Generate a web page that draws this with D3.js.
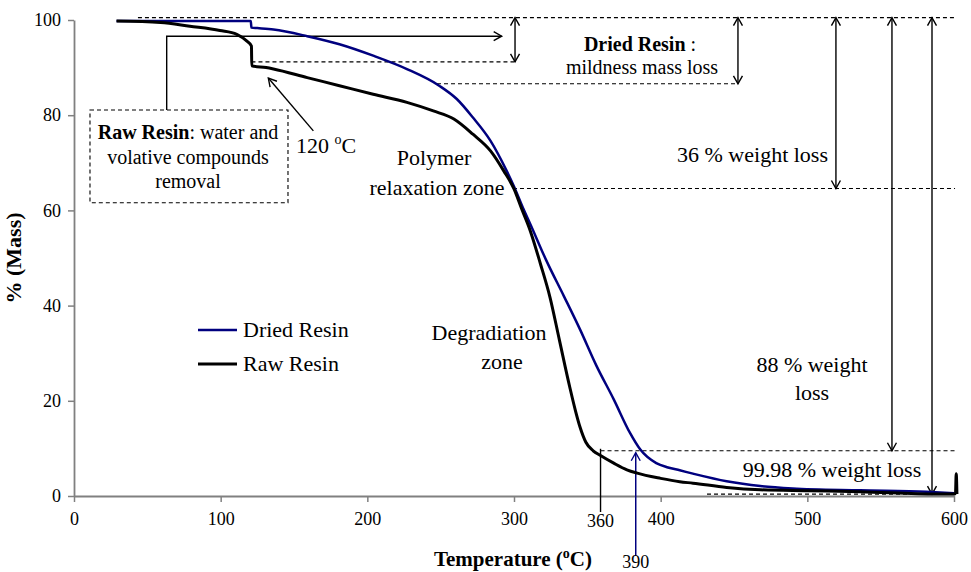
<!DOCTYPE html>
<html>
<head>
<meta charset="utf-8">
<script src="https://cdn.jsdelivr.net/npm/d3@7"></script>
<style>
  body { margin: 0; background: #fff; }
  svg { display: block; font-family: "Liberation Serif", "Times New Roman", serif; }
</style>
</head>
<body>
<div id="chart"></div>
<script>
// TGA curves
const tempDried = [29, 60, 90, 120.5, 121, 125, 136, 159, 181, 204, 227, 249, 261, 272, 284, 295, 300, 306, 311, 322, 334, 345, 356, 368, 379, 386, 397, 405, 413, 422, 445, 468, 490, 536, 581, 600];
const massDried = [99.8, 99.8, 99.8, 99.8, 98.4, 98.3, 98.0, 96.6, 94.9, 92.5, 89.7, 86.2, 83.4, 79.5, 74.6, 68.3, 65.0, 60.6, 57.2, 49.5, 42.0, 35.0, 27.5, 20.3, 13.3, 9.8, 6.9, 6.0, 5.4, 4.7, 3.1, 2.1, 1.6, 1.2, 0.9, 0.6];

const tempRaw = [29, 59, 79, 99.5, 111, 117.7, 121, 121.2, 131, 136, 159, 181, 204, 227, 245, 259, 272, 284, 293, 300, 305, 311, 318, 324.5, 331, 338, 342, 345, 349, 354, 359, 368, 377, 384, 400, 413, 422, 445, 468, 500, 536, 588, 599.5, 601, 601.5, 601.8, 602];
const massRaw = [99.8, 99.5, 98.7, 97.8, 97.0, 95.6, 94.5, 90.4, 90.0, 89.7, 87.9, 86.2, 84.4, 82.7, 80.9, 79.2, 76.0, 72.5, 68.3, 64.5, 60.5, 55.8, 48.8, 41.8, 32.7, 22.9, 17.8, 14.5, 11.3, 9.5, 8.5, 6.9, 5.5, 4.8, 3.7, 3.0, 2.7, 1.8, 1.3, 1.1, 0.9, 0.4, 0.4, 0.5, 4.7, 3.0, 0.4];

const seriesNames = ['Dried Resin', 'Raw Resin'];
const seriesColors = ['#00007f', '#000000'];
const xTicks = [0, 100, 200, 300, 400, 500, 600];
const yTicks = [0, 20, 40, 60, 80, 100];

// mass levels used by the dashed guide lines, and temperatures of the two markers
const lossLevels = [100.5, 91.2, 86.6, 64.6, 9.5, 0.4];
const markerTemps = [359, 383];
const markerLabels = ['360', '390'];

const width = 971, height = 572;
const margin = { top: 20, right: 17, bottom: 76, left: 74 };

const svg = d3.select('#chart').append('svg')
  .attr('width', width)
  .attr('height', height);

const x = d3.scaleLinear().domain([0, 600]).range([margin.left, width - margin.right]);
const y = d3.scaleLinear().domain([0, 100]).range([height - margin.bottom, margin.top]);

// arrow heads
const defs = svg.append('defs');
function addMarker(id, color) {
  defs.append('marker')
    .attr('id', id)
    .attr('viewBox', '-10 -6 12 12')
    .attr('refX', 0).attr('refY', 0)
    .attr('markerWidth', 12).attr('markerHeight', 12)
    .attr('markerUnits', 'userSpaceOnUse')
    .attr('orient', 'auto-start-reverse')
    .append('path')
    .attr('d', 'M-8,-4.5 L0,0 L-8,4.5')
    .attr('fill', 'none')
    .attr('stroke', color)
    .attr('stroke-width', 1.4);
}
addMarker('head', '#000');
addMarker('headBlue', '#00007f');

// axes
const axisColor = '#808080';
const yAxis = svg.append('g')
  .attr('transform', `translate(${margin.left},0)`)
  .call(d3.axisLeft(y).tickValues(yTicks).tickSize(6).tickSizeOuter(0).tickPadding(7));
const xAxis = svg.append('g')
  .attr('transform', `translate(0,${y(0)})`)
  .call(d3.axisBottom(x).tickValues(xTicks).tickSize(6).tickSizeOuter(0).tickPadding(10));
[xAxis, yAxis].forEach(g => {
  g.attr('font-family', null);
  g.select('.domain').attr('stroke', axisColor).attr('stroke-width', 1.8);
  g.selectAll('.tick line').attr('stroke', axisColor).attr('stroke-width', 1.5);
  g.selectAll('.tick text').attr('fill', '#000').style('font-size', '18px');
});

// dashed guide lines
const guides = [
  [43.6, 600.7, lossLevels[0]],
  [121, 300, lossLevels[1]],
  [247.5, 452.7, lossLevels[2]],
  [299.3, 600.7, lossLevels[3]],
  [markerTemps[0], 600.7, lossLevels[4]],
  [431.6, 600.7, lossLevels[5]]
];
svg.append('g').selectAll('line').data(guides).join('line')
  .attr('x1', d => x(d[0])).attr('x2', d => x(d[1]))
  .attr('y1', d => y(d[2])).attr('y2', d => y(d[2]))
  .attr('stroke', '#000').attr('stroke-width', 1.1)
  .attr('stroke-dasharray', '4,3');

// double arrows for the weight losses
const arrows = [
  [300.7, lossLevels[1]],
  [452.7, lossLevels[2]],
  [519.5, lossLevels[3]],
  [557.7, lossLevels[4]],
  [585, lossLevels[5]]
];
svg.append('g').selectAll('line').data(arrows).join('line')
  .attr('x1', d => x(d[0])).attr('x2', d => x(d[0]))
  .attr('y1', y(lossLevels[0])).attr('y2', d => y(d[1]))
  .attr('stroke', '#000').attr('stroke-width', 1.4)
  .attr('marker-start', 'url(#head)')
  .attr('marker-end', 'url(#head)');

// Raw resin callout box with its leader
svg.append('rect')
  .attr('x', x(10.9)).attr('y', y(81.1))
  .attr('width', x(145.9) - x(10.9)).attr('height', y(61.6) - y(81.1))
  .attr('fill', 'none').attr('stroke', '#000').attr('stroke-width', 1.1)
  .attr('stroke-dasharray', '4,3');
svg.append('path')
  .attr('d', d3.line()([[x(63.2), y(81.1)], [x(63.2), y(96.6)], [x(291.6), y(96.6)]]))
  .attr('fill', 'none').attr('stroke', '#000').attr('stroke-width', 1.4)
  .attr('marker-end', 'url(#head)');

// 120 C arrow
svg.append('line')
  .attr('x1', x(163.2)).attr('y1', y(76.7))
  .attr('x2', x(132.5)).attr('y2', y(87.8))
  .attr('stroke', '#000').attr('stroke-width', 1.4)
  .attr('marker-end', 'url(#head)');

// 360 and 390 markers
svg.append('line')
  .attr('x1', x(markerTemps[0])).attr('x2', x(markerTemps[0]))
  .attr('y1', y(lossLevels[4]) - 2).attr('y2', y(0) + 16)
  .attr('stroke', '#000').attr('stroke-width', 1.4);
svg.append('line')
  .attr('x1', x(markerTemps[1])).attr('x2', x(markerTemps[1]))
  .attr('y1', y(0) + 60).attr('y2', y(lossLevels[4]) + 2)
  .attr('stroke', '#00007f').attr('stroke-width', 1.5)
  .attr('marker-end', 'url(#headBlue)');
svg.append('text').attr('x', x(markerTemps[0])).attr('y', 527)
  .attr('text-anchor', 'middle').style('font-size', '18px').text(markerLabels[0]);
svg.append('text').attr('x', x(markerTemps[1])).attr('y', 568)
  .attr('text-anchor', 'middle').style('font-size', '18px').text(markerLabels[1]);

// curves
const temps = [tempDried, tempRaw];
const masses = [massDried, massRaw];
const widths = [2.5, 3];
const line = d3.line()
  .x(d => x(d[0]))
  .y(d => y(d[1]))
  .curve(d3.curveMonotoneX);
seriesNames.forEach((name, i) => {
  const pts = temps[i].map((t, j) => [t, masses[i][j]]);
  svg.append('path')
    .datum(pts)
    .attr('fill', 'none')
    .attr('stroke', seriesColors[i])
    .attr('stroke-width', widths[i])
    .attr('stroke-linejoin', 'round')
    .attr('d', line);
});

// legend
const legend = svg.append('g');
seriesNames.forEach((name, i) => {
  const ly = 330 + i * 34;
  legend.append('line')
    .attr('x1', 198).attr('x2', 237).attr('y1', ly).attr('y2', ly)
    .attr('stroke', seriesColors[i]).attr('stroke-width', widths[i]);
  legend.append('text')
    .attr('x', 243).attr('y', ly + 7)
    .style('font-size', '22px').text(name);
});

// text annotations
function addText(xp, yp, size, anchor) {
  return svg.append('text').attr('x', xp).attr('y', yp)
    .attr('text-anchor', anchor || 'middle').style('font-size', size + 'px');
}

let t = addText(188, 139, 20);
t.append('tspan').attr('font-weight', 'bold').text('Raw Resin');
t.append('tspan').text(': water and');
addText(188, 164, 20).text('volative compounds');
addText(188, 188, 20).text('removal');

t = addText(296, 153, 22, 'start');
t.append('tspan').text('120 ');
t.append('tspan').attr('dy', -9).style('font-size', '14px').text('o');
t.append('tspan').attr('dy', 9).text('C');

t = addText(640, 51, 20);
t.append('tspan').attr('font-weight', 'bold').text('Dried Resin');
t.append('tspan').text(' :');
addText(642, 74, 20).text('mildness mass loss');

addText(434, 165, 22).text('Polymer');
addText(437, 195, 22).text('relaxation zone');
addText(489, 340, 22).text('Degradiation');
addText(502, 369, 22).text('zone');

addText(828, 162, 22, 'end').text('36 % weight loss');
addText(812, 372, 22).text('88 % weight');
addText(812, 400, 22).text('loss');
addText(832, 477, 22).text('99.98 % weight loss');

// axis titles
t = addText(513, 566, 21).attr('font-weight', 'bold');
t.append('tspan').text('Temperature (');
t.append('tspan').attr('dy', -8).style('font-size', '14px').text('o');
t.append('tspan').attr('dy', 8).text('C)');

svg.append('text')
  .attr('transform', `translate(21,${(y(0) + y(100)) / 2}) rotate(-90)`)
  .attr('text-anchor', 'middle')
  .attr('font-weight', 'bold')
  .style('font-size', '22px')
  .text('% (Mass)');
</script>
</body>
</html>
